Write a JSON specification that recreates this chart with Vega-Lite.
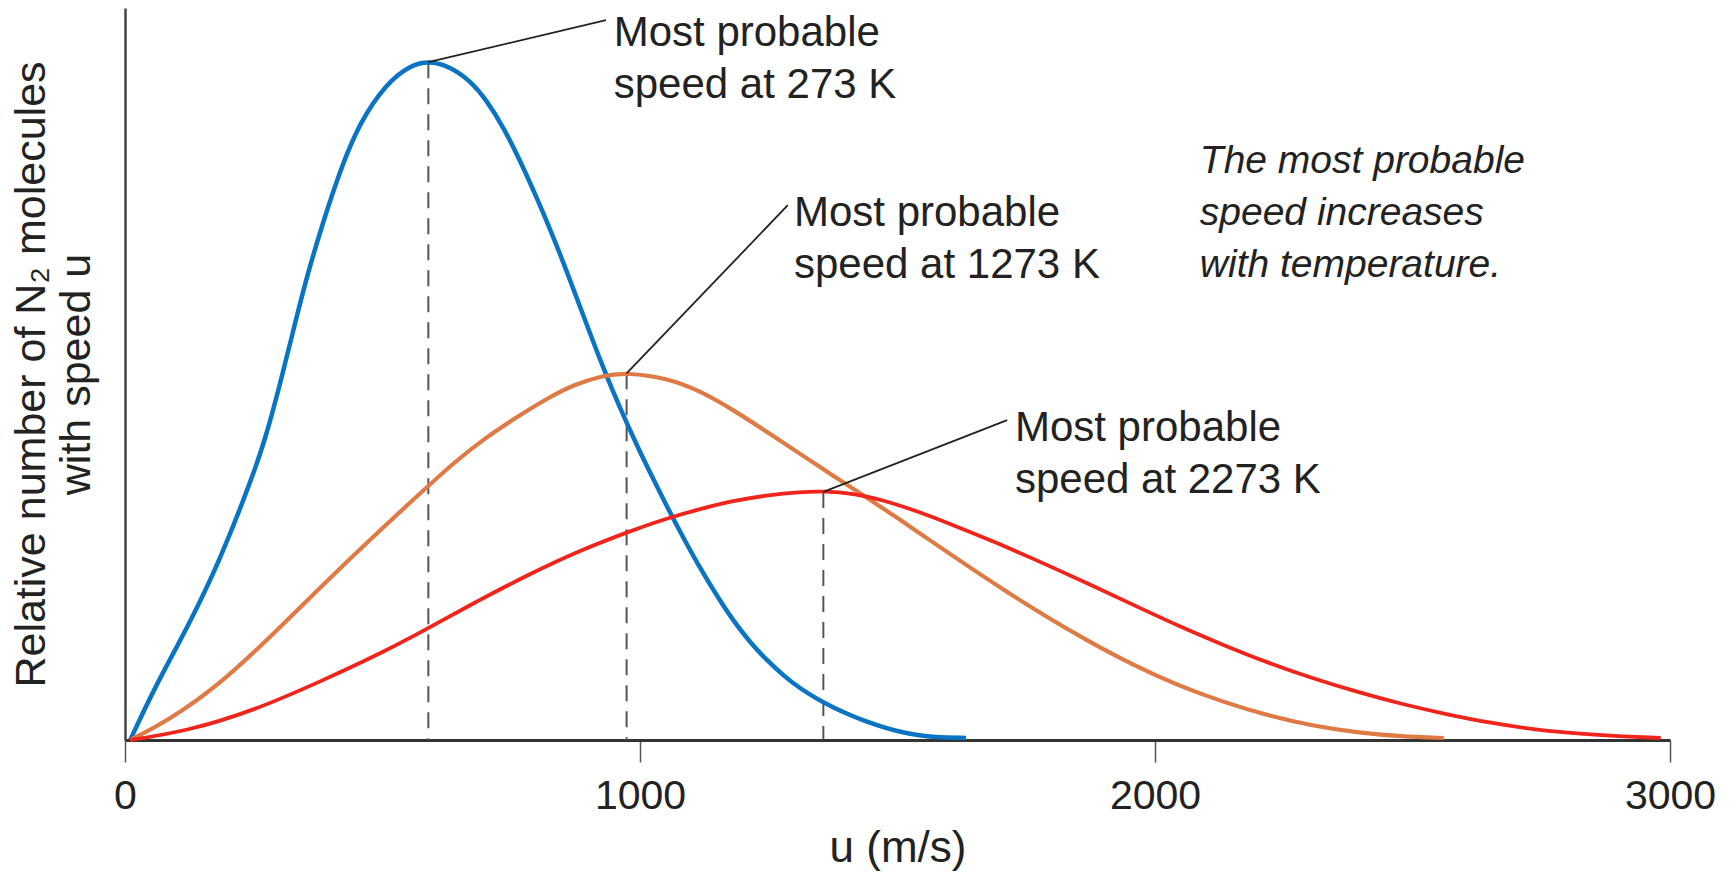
{
  "$schema": "https://vega.github.io/schema/vega-lite/v6.json",
  "width": 1545,
  "height": 732,
  "autosize": {"type": "none"},
  "padding": {"left": 125, "top": 8, "right": 65, "bottom": 136},
  "background": "white",
  "config": {
    "view": {"stroke": null},
    "font": "Liberation Sans",
    "text": {"font": "Liberation Sans"}
  },
  "datasets": {
    "curves": [
      {"T": "273 K", "u": 10, "n": 0}, {"T": "273 K", "u": 60, "n": 8.1}, {"T": "273 K", "u": 120, "n": 16.4}, {"T": "273 K", "u": 184, "n": 26.4}, {"T": "273 K", "u": 249, "n": 39.1}, {"T": "273 K", "u": 275, "n": 45.1}, {"T": "273 K", "u": 301, "n": 52.5}, {"T": "273 K", "u": 327, "n": 60.5}, {"T": "273 K", "u": 353, "n": 68.4}, {"T": "273 K", "u": 385, "n": 76.5}, {"T": "273 K", "u": 417, "n": 83.9}, {"T": "273 K", "u": 456, "n": 91.2}, {"T": "273 K", "u": 508, "n": 96.9}, {"T": "273 K", "u": 553, "n": 99.5}, {"T": "273 K", "u": 589, "n": 100.2}, {"T": "273 K", "u": 630, "n": 99.4}, {"T": "273 K", "u": 670, "n": 97.3}, {"T": "273 K", "u": 702, "n": 94.4}, {"T": "273 K", "u": 735, "n": 90.4}, {"T": "273 K", "u": 767, "n": 85.5}, {"T": "273 K", "u": 799, "n": 80.1}, {"T": "273 K", "u": 832, "n": 74.2}, {"T": "273 K", "u": 864, "n": 67.9}, {"T": "273 K", "u": 896, "n": 61.4}, {"T": "273 K", "u": 929, "n": 54.8}, {"T": "273 K", "u": 961, "n": 49.0}, {"T": "273 K", "u": 993, "n": 43.6}, {"T": "273 K", "u": 1025, "n": 38.6}, {"T": "273 K", "u": 1052, "n": 34.5}, {"T": "273 K", "u": 1085, "n": 29.7}, {"T": "273 K", "u": 1117, "n": 25.3}, {"T": "273 K", "u": 1150, "n": 21.2}, {"T": "273 K", "u": 1181, "n": 17.6}, {"T": "273 K", "u": 1215, "n": 14.3}, {"T": "273 K", "u": 1246, "n": 11.8}, {"T": "273 K", "u": 1280, "n": 9.4}, {"T": "273 K", "u": 1311, "n": 7.6}, {"T": "273 K", "u": 1345, "n": 6.0}, {"T": "273 K", "u": 1375, "n": 4.8}, {"T": "273 K", "u": 1410, "n": 3.6}, {"T": "273 K", "u": 1440, "n": 2.7}, {"T": "273 K", "u": 1475, "n": 1.8}, {"T": "273 K", "u": 1505, "n": 1.2}, {"T": "273 K", "u": 1540, "n": 0.7}, {"T": "273 K", "u": 1570, "n": 0.4}, {"T": "273 K", "u": 1633, "n": 0.3},
      {"T": "1273 K", "u": 10, "n": 0}, {"T": "1273 K", "u": 87, "n": 3.0}, {"T": "1273 K", "u": 184, "n": 8.2}, {"T": "1273 K", "u": 282, "n": 15.2}, {"T": "1273 K", "u": 379, "n": 22.5}, {"T": "1273 K", "u": 476, "n": 29.6}, {"T": "1273 K", "u": 589, "n": 37.5}, {"T": "1273 K", "u": 640, "n": 41.0}, {"T": "1273 K", "u": 700, "n": 44.6}, {"T": "1273 K", "u": 760, "n": 47.6}, {"T": "1273 K", "u": 820, "n": 50.4}, {"T": "1273 K", "u": 870, "n": 52.4}, {"T": "1273 K", "u": 929, "n": 53.8}, {"T": "1273 K", "u": 974, "n": 54.2}, {"T": "1273 K", "u": 1052, "n": 53.4}, {"T": "1273 K", "u": 1117, "n": 51.5}, {"T": "1273 K", "u": 1181, "n": 48.7}, {"T": "1273 K", "u": 1246, "n": 45.5}, {"T": "1273 K", "u": 1311, "n": 42.2}, {"T": "1273 K", "u": 1375, "n": 39.0}, {"T": "1273 K", "u": 1440, "n": 35.8}, {"T": "1273 K", "u": 1505, "n": 32.5}, {"T": "1273 K", "u": 1570, "n": 29.1}, {"T": "1273 K", "u": 1634, "n": 25.8}, {"T": "1273 K", "u": 1699, "n": 22.5}, {"T": "1273 K", "u": 1786, "n": 18.3}, {"T": "1273 K", "u": 1872, "n": 14.5}, {"T": "1273 K", "u": 1959, "n": 11.0}, {"T": "1273 K", "u": 2046, "n": 8.0}, {"T": "1273 K", "u": 2133, "n": 5.6}, {"T": "1273 K", "u": 2219, "n": 3.6}, {"T": "1273 K", "u": 2306, "n": 2.1}, {"T": "1273 K", "u": 2392, "n": 1.1}, {"T": "1273 K", "u": 2479, "n": 0.5}, {"T": "1273 K", "u": 2561, "n": 0.3},
      {"T": "2273 K", "u": 10, "n": 0}, {"T": "2273 K", "u": 120, "n": 1.3}, {"T": "2273 K", "u": 249, "n": 4.3}, {"T": "2273 K", "u": 379, "n": 8.6}, {"T": "2273 K", "u": 508, "n": 13.2}, {"T": "2273 K", "u": 589, "n": 16.5}, {"T": "2273 K", "u": 689, "n": 20.7}, {"T": "2273 K", "u": 786, "n": 24.5}, {"T": "2273 K", "u": 884, "n": 28.0}, {"T": "2273 K", "u": 987, "n": 31.0}, {"T": "2273 K", "u": 1052, "n": 32.7}, {"T": "2273 K", "u": 1117, "n": 34.1}, {"T": "2273 K", "u": 1181, "n": 35.3}, {"T": "2273 K", "u": 1246, "n": 36.1}, {"T": "2273 K", "u": 1311, "n": 36.6}, {"T": "2273 K", "u": 1356, "n": 36.7}, {"T": "2273 K", "u": 1414, "n": 36.4}, {"T": "2273 K", "u": 1472, "n": 35.4}, {"T": "2273 K", "u": 1537, "n": 33.8}, {"T": "2273 K", "u": 1602, "n": 31.9}, {"T": "2273 K", "u": 1667, "n": 29.9}, {"T": "2273 K", "u": 1738, "n": 27.6}, {"T": "2273 K", "u": 1800, "n": 25.5}, {"T": "2273 K", "u": 1872, "n": 23.0}, {"T": "2273 K", "u": 1959, "n": 19.9}, {"T": "2273 K", "u": 2046, "n": 16.8}, {"T": "2273 K", "u": 2133, "n": 14.0}, {"T": "2273 K", "u": 2219, "n": 11.4}, {"T": "2273 K", "u": 2306, "n": 9.1}, {"T": "2273 K", "u": 2392, "n": 7.1}, {"T": "2273 K", "u": 2479, "n": 5.3}, {"T": "2273 K", "u": 2566, "n": 3.8}, {"T": "2273 K", "u": 2652, "n": 2.5}, {"T": "2273 K", "u": 2739, "n": 1.5}, {"T": "2273 K", "u": 2826, "n": 0.9}, {"T": "2273 K", "u": 2913, "n": 0.5}, {"T": "2273 K", "u": 2982, "n": 0.3}
    ],
    "drops": [
      {"u": 589, "n": 100},
      {"u": 974, "n": 54.1},
      {"u": 1356, "n": 36.6}
    ],
    "leaders": [
      {"u": 589, "n": 100, "u2": 934, "n2": 106.2},
      {"u": 974, "n": 54.1, "u2": 1287, "n2": 78.9},
      {"u": 1356, "n": 36.6, "u2": 1713, "n2": 47.2}
    ],
    "labels": [
      {"u": 949, "n": 102.4, "label": "Most probable\nspeed at 273 K"},
      {"u": 1299, "n": 75.8, "label": "Most probable\nspeed at 1273 K"},
      {"u": 1728, "n": 44.1, "label": "Most probable\nspeed at 2273 K"}
    ],
    "note": [
      {"u": 2087, "n": 83.6, "label": "The most probable\nspeed increases\nwith temperature."}
    ]
  },
  "encoding": {
    "x": {
      "field": "u",
      "type": "quantitative",
      "scale": {"domain": [0, 3000], "nice": false, "zero": false},
      "axis": {
        "title": "u (m/s)",
        "values": [0, 1000, 2000, 3000],
        "format": "d",
        "grid": false,
        "domainColor": "#333333",
        "domainWidth": 3,
        "tickColor": "#555555",
        "tickWidth": 1.5,
        "tickSize": 22,
        "labelFontSize": 41,
        "labelColor": "#222222",
        "labelPadding": 14,
        "labelFlush": false,
        "labelOverlap": false,
        "labelFont": "Liberation Sans",
        "titleFont": "Liberation Sans",
        "titleFontSize": 44,
        "titleFontWeight": "normal",
        "titleColor": "#222222",
        "titlePadding": 10
      }
    },
    "y": {
      "field": "n",
      "type": "quantitative",
      "scale": {"domain": [0, 108], "nice": false, "zero": true},
      "axis": {
        "title": ["Relative number of N₂ molecules", "with speed u"],
        "grid": false,
        "ticks": false,
        "labels": false,
        "domainColor": "#444444",
        "domainWidth": 2.5,
        "titleFont": "Liberation Sans",
        "titleFontSize": 43,
        "titleFontWeight": "normal",
        "titleColor": "#222222",
        "titleLineHeight": 45,
        "titlePadding": 27
      }
    }
  },
  "layer": [
    {
      "data": {"name": "drops"},
      "mark": {"type": "rule", "color": "#555555", "strokeWidth": 2, "strokeDash": [16, 10]},
      "encoding": {"y2": {"datum": 0}}
    },
    {
      "data": {"name": "curves"},
      "mark": {"type": "line", "interpolate": "basis"},
      "encoding": {
        "color": {
          "field": "T",
          "type": "nominal",
          "scale": {"domain": ["273 K", "1273 K", "2273 K"], "range": ["#0a74c4", "#e07a44", "#f0241a"]},
          "legend": null
        },
        "strokeWidth": {
          "field": "T",
          "type": "nominal",
          "scale": {"domain": ["273 K", "1273 K", "2273 K"], "range": [4.5, 3.8, 4.5]},
          "legend": null
        }
      }
    },
    {
      "data": {"name": "leaders"},
      "mark": {"type": "rule", "color": "#222222", "strokeWidth": 1.8},
      "encoding": {
        "x2": {"field": "u2"},
        "y2": {"field": "n2"}
      }
    },
    {
      "data": {"name": "labels"},
      "mark": {"type": "text", "align": "left", "baseline": "alphabetic", "fontSize": 42, "lineHeight": 52, "lineBreak": "\n", "color": "#222222", "font": "Liberation Sans"},
      "encoding": {"text": {"field": "label"}}
    },
    {
      "data": {"name": "note"},
      "mark": {"type": "text", "align": "left", "baseline": "alphabetic", "fontSize": 39, "fontStyle": "italic", "lineHeight": 52, "lineBreak": "\n", "color": "#222222", "font": "Liberation Sans"},
      "encoding": {"text": {"field": "label"}}
    }
  ]
}
